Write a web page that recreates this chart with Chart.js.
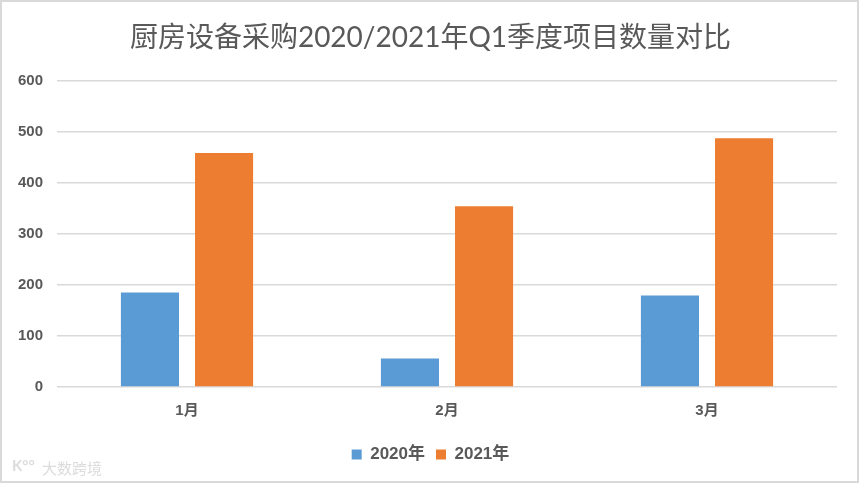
<!DOCTYPE html>
<html>
<head>
<meta charset="utf-8">
<script src="https://cdn.jsdelivr.net/npm/chart.js@4"></script>
<style>
  html, body { margin: 0; padding: 0; background: #fff; }
  #wrap { width: 861px; height: 486px; position: relative; }
</style>
</head>
<body>
<div id="wrap"><canvas id="myChart" width="861" height="486"></canvas></div>
<script>
// 数据
const months = ['1月', '2月', '3月'];
const seriesNames = ['2020年', '2021年'];
const data2020 = [185, 56, 179];
const data2021 = [458, 354, 487];
const yTicks = [0, 100, 200, 300, 400, 500, 600];

const fontFamily = "'Liberation Sans', 'Noto Sans CJK SC', sans-serif";
const titleFont = "Lato, 'Noto Sans CJK SC', sans-serif";
const textColor = '#595959';

// 外框和水印
const framePlugin = {
  id: 'frame',
  afterDraw(chart) {
    const ctx = chart.ctx;
    ctx.save();
    ctx.strokeStyle = '#d9d9d9';
    ctx.lineWidth = 2;
    ctx.strokeRect(1, 1, 857, 481);
    ctx.fillStyle = '#dcdcdc';
    ctx.font = "15px 'Noto Sans CJK SC'";
    ctx.textBaseline = 'middle';
    ctx.fillText('大数跨境', 42, 468);
    ctx.font = "bold 15px Lato";
    ctx.fillText('K°°', 12, 466);
    ctx.restore();
  }
};

var chartArea = document.getElementById('myChart').getContext('2d');
var myChart = new Chart(chartArea, {
  type: 'bar',
  data: {
    labels: months,
    datasets: [
      {
        label: seriesNames[0],
        data: data2020,
        backgroundColor: '#5B9BD5',
        categoryPercentage: 0.57,
        barPercentage: 0.784,
      },
      {
        label: seriesNames[1],
        data: data2021,
        backgroundColor: '#ED7D31',
        categoryPercentage: 0.57,
        barPercentage: 0.784,
      },
    ]
  },
  options: {
    responsive: false,
    animation: false,
    layout: { padding: { left: 0, right: 0, top: 0, bottom: 13 } },
    plugins: {
      title: {
        display: true,
        text: '厨房设备采购2020/2021年Q1季度项目数量对比',
        color: textColor,
        font: { family: titleFont, size: 28, weight: 'normal' },
        padding: { top: 21, bottom: 26 }
      },
      legend: {
        position: 'bottom',
        labels: {
          boxWidth: 10,
          boxHeight: 10,
          color: textColor,
          font: { family: fontFamily, size: 17, weight: 'bold' },
          padding: 11
        }
      },
      tooltip: { enabled: false }
    },
    scales: {
      x: {
        grid: { display: false, drawTicks: false },
        border: { display: false },
        ticks: {
          color: textColor,
          font: { family: fontFamily, size: 15, weight: 'bold' },
          padding: 15
        }
      },
      y: {
        min: 0,
        max: 600,
        afterBuildTicks(scale) {
          scale.ticks = yTicks.map(v => ({ value: v }));
        },
        afterFit(scale) { scale.width = 57; },
        grid: { color: '#d9d9d9', lineWidth: 1.5, drawTicks: false },
        border: { display: false },
        ticks: {
          color: textColor,
          font: { family: fontFamily, size: 15, weight: 'bold' },
          padding: 14
        }
      },
      // 右侧留白用的空轴
      yRight: {
        position: 'right',
        grid: { display: false, drawTicks: false },
        border: { display: false },
        ticks: { display: false },
        afterFit(scale) { scale.width = 24; }
      }
    }
  },
  plugins: [framePlugin]
});
</script>
</body>
</html>
